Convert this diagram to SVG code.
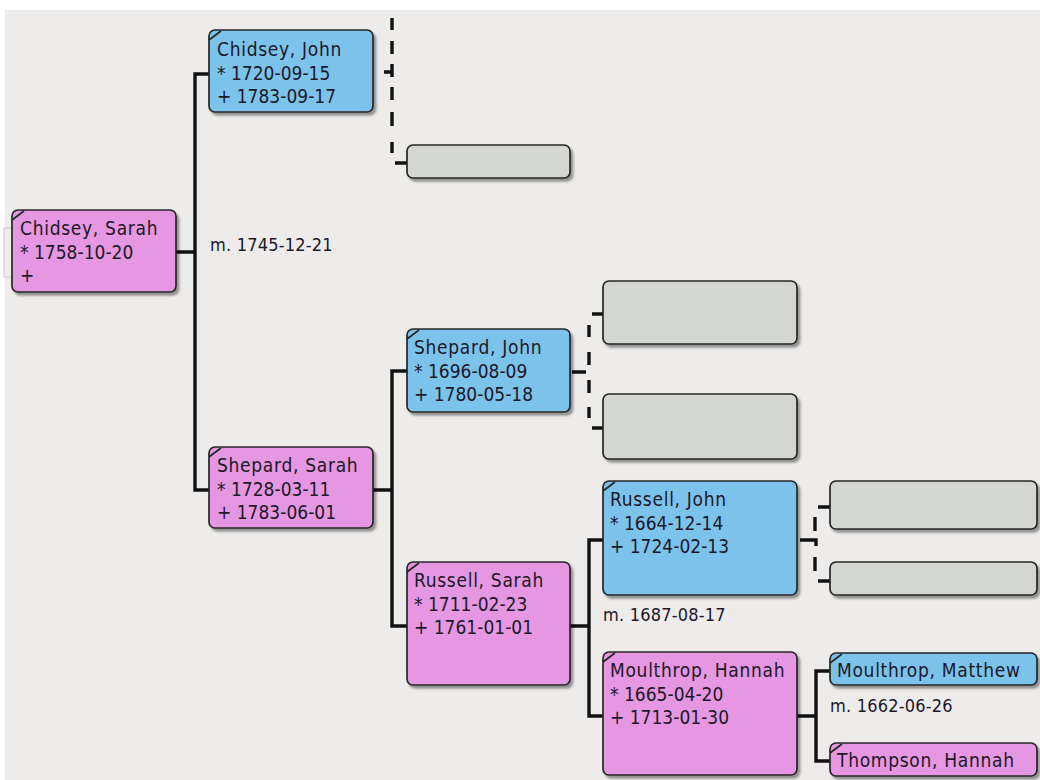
<svg xmlns="http://www.w3.org/2000/svg" width="1040" height="780" viewBox="0 0 1040 780">
<style>
.box{stroke:#262626;stroke-width:1.7;filter:url(#sh)}
.f{fill:#e597e1}
.m{fill:#7cc3ec}
.u{fill:#d4d6d1}
.tag{stroke:#262626;stroke-width:1.7;fill:none}
text{font-family:"DejaVu Sans Condensed","DejaVu Sans",sans-serif;font-stretch:condensed;font-size:19px;fill:#1c1828}
.n{letter-spacing:0.7px}
.mar{font-size:18px;letter-spacing:0.2px}
.solid{stroke:#111;stroke-width:3.4;fill:none}
.dash{stroke:#111;stroke-width:3.4;fill:none}
</style>
<defs>
<filter id="sh" x="-10%" y="-10%" width="130%" height="140%">
<feDropShadow dx="2.5" dy="3" stdDeviation="1.3" flood-color="#000" flood-opacity="0.38"/>
</filter>
</defs>
<rect x="0" y="0" width="1040" height="780" fill="#ffffff"/>
<rect x="5" y="10" width="1035" height="770" fill="#edeceb"/>
<path d="M12,228 H4 V277 H12" stroke="#c9c9c9" stroke-width="1.2" fill="none"/>

<g id="connectors">
<path class="solid" d="M176,252 H195 M209,74 H195 V490 H209"/>
<path class="solid" d="M373,490 H392 M407,371 H392 V626 H407"/>
<path class="solid" d="M570,626 H589 M603,540 H589 V716 H603"/>
<path class="solid" d="M797,716 H816 M830,671 H816 V761 H830"/>
<path class="dash" d="M392,18 V30 M392,41 V54 M392,64 V77 M392,87 V100 M392,112 V126 M392,142 V153 M384,72 H393 M395,163 H407"/>
<path class="dash" d="M589,325 V337 M589,352 V365 M589,380 V393 M589,407 V418 M572,372 H586 M592,314 H603 M592,428 H603"/>
<path class="dash" d="M815,517 V531 M815,557 V571 M800,540 H816 V546 M818,507 H830 M818,581 H830"/>
</g>

<g id="chidsey-sarah">
<rect class="box f" x="12" y="210" width="164" height="82" rx="6"/>
<path class="tag" d="M12,220 L24,211"/>
<text class="n" x="20" y="235">Chidsey, Sarah</text>
<text x="20" y="258.5">* 1758-10-20</text>
<text x="20" y="282">+</text>
</g>

<g id="chidsey-john">
<rect class="box m" x="209" y="30" width="164" height="82" rx="6"/>
<path class="tag" d="M209,40 L221,31"/>
<text class="n" x="217" y="56">Chidsey, John</text>
<text x="217" y="79.5">* 1720-09-15</text>
<text x="217" y="103">+ 1783-09-17</text>
</g>

<g id="unknown-1">
<rect class="box u" x="407" y="145" width="163" height="33" rx="6"/>
</g>

<text class="mar" x="210" y="251">m. 1745-12-21</text>

<g id="shepard-sarah">
<rect class="box f" x="209" y="447" width="164" height="81" rx="6"/>
<path class="tag" d="M209,457 L221,448"/>
<text class="n" x="217" y="472">Shepard, Sarah</text>
<text x="217" y="495.5">* 1728-03-11</text>
<text x="217" y="519">+ 1783-06-01</text>
</g>

<g id="shepard-john">
<rect class="box m" x="407" y="329" width="163" height="83" rx="6"/>
<path class="tag" d="M407,339 L419,330"/>
<text class="n" x="414" y="354">Shepard, John</text>
<text x="414" y="377.5">* 1696-08-09</text>
<text x="414" y="401">+ 1780-05-18</text>
</g>

<g id="unknown-2">
<rect class="box u" x="603" y="281" width="194" height="63" rx="6"/>
</g>
<g id="unknown-3">
<rect class="box u" x="603" y="394" width="194" height="65" rx="6"/>
</g>

<g id="russell-sarah">
<rect class="box f" x="407" y="562" width="163" height="123" rx="6"/>
<path class="tag" d="M407,572 L419,563"/>
<text class="n" x="414" y="587">Russell, Sarah</text>
<text x="414" y="610.5">* 1711-02-23</text>
<text x="414" y="634">+ 1761-01-01</text>
</g>

<g id="russell-john">
<rect class="box m" x="603" y="481" width="194" height="114" rx="6"/>
<path class="tag" d="M603,491 L615,482"/>
<text class="n" x="610" y="506">Russell, John</text>
<text x="610" y="529.5">* 1664-12-14</text>
<text x="610" y="553">+ 1724-02-13</text>
</g>

<g id="unknown-4">
<rect class="box u" x="830" y="481" width="207" height="48" rx="6"/>
</g>
<g id="unknown-5">
<rect class="box u" x="830" y="562" width="207" height="33" rx="6"/>
</g>

<text class="mar" x="603" y="621">m. 1687-08-17</text>

<g id="moulthrop-hannah">
<rect class="box f" x="603" y="652" width="194" height="123" rx="6"/>
<path class="tag" d="M603,662 L615,653"/>
<text class="n" x="610" y="677">Moulthrop, Hannah</text>
<text x="610" y="700.5">* 1665-04-20</text>
<text x="610" y="724">+ 1713-01-30</text>
</g>

<g id="moulthrop-matthew">
<rect class="box m" x="830" y="653" width="207" height="32" rx="6"/>
<path class="tag" d="M830,663 L842,654"/>
<text class="n" x="837" y="677">Moulthrop, Matthew</text>
</g>

<text class="mar" x="830" y="712">m. 1662-06-26</text>

<g id="thompson-hannah">
<rect class="box f" x="830" y="743" width="207" height="33" rx="6"/>
<path class="tag" d="M830,753 L842,744"/>
<text class="n" x="837" y="767">Thompson, Hannah</text>
</g>
</svg>
